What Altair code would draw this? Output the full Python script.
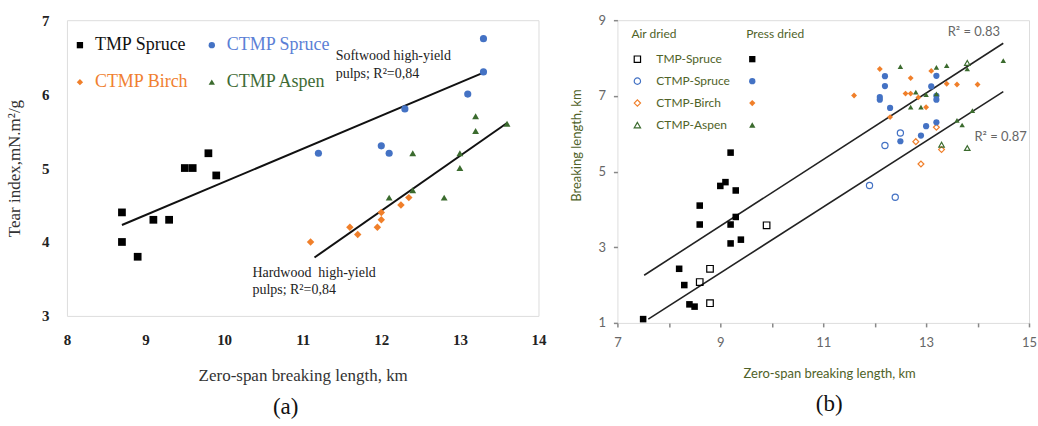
import altair as alt
import pandas as pd

# ---------------- Panel (a) data ----------------
# legend is laid out column-major in two columns, so this order gives rows
# "TMP Spruce | CTMP Spruce" and "CTMP Birch | CTMP Aspen"
a_series = ["TMP Spruce", "CTMP Birch", "CTMP Spruce", "CTMP Aspen"]
a_colors = ["#000000", "#F07F2A", "#4472C4", "#3B6B2E"]
a_shapes = ["square", "diamond", "circle", "triangle-up"]
a_sizes = [60, 30, 50, 38]

a_tmp_x = [8.7, 8.7, 8.9, 9.1, 9.3, 9.5, 9.6, 9.8, 9.9]
a_tmp_y = [4.4, 4.0, 3.8, 4.3, 4.3, 5.0, 5.0, 5.2, 4.9]
a_cspruce_x = [11.2, 12.0, 12.1, 12.3, 13.1, 13.3, 13.3]
a_cspruce_y = [5.2, 5.3, 5.2, 5.8, 6.0, 6.3, 6.75]
a_birch_x = [11.1, 11.6, 11.7, 11.95, 12.0, 12.0, 12.25, 12.35]
a_birch_y = [4.0, 4.2, 4.1, 4.2, 4.3, 4.4, 4.5, 4.6]
a_aspen_x = [12.1, 12.4, 12.4, 12.8, 13.0, 13.0, 13.2, 13.2, 13.6]
a_aspen_y = [4.6, 4.7, 5.2, 4.6, 5.0, 5.2, 5.5, 5.7, 5.6]

a_line_names = ["Softwood", "Softwood", "Hardwood", "Hardwood"]
a_line_x = [8.7, 13.3, 11.15, 13.6]
a_line_y = [4.23, 6.29, 3.79, 5.61]

a_note_text = ["Softwood high-yield", " pulps; R²=0,84", "Hardwood\u00a0 high-yield", "pulps; R²=0,84"]
a_note_x = [11.42, 11.42, 10.36, 10.36]
a_note_y = [6.51, 6.27, 3.58, 3.35]

# ---------------- Panel (b) data ----------------
b_series = ["TMP-Spruce", "CTMP-Spruce", "CTMP-Birch", "CTMP-Aspen"]
b_colors = ["#000000", "#4472C4", "#F07F2A", "#3B6B2E"]
b_shapes = ["square", "circle", "diamond", "triangle-up"]
b_sizes = [75, 55, 40, 45]

b_tmp_press_x = [9.2, 9.1, 9.0, 9.3, 8.6, 8.6, 9.2, 9.3, 9.2, 9.4, 8.2, 8.3, 8.4, 8.5, 7.5]
b_tmp_press_y = [5.5, 4.72, 4.62, 4.5, 4.1, 3.6, 3.6, 3.8, 3.1, 3.2, 2.43, 2.0, 1.49, 1.43, 1.1]
b_tmp_air_x = [9.9, 8.8, 8.6, 8.8]
b_tmp_air_y = [3.58, 2.43, 2.08, 1.52]
b_cspruce_press_x = [12.2, 12.2, 12.1, 12.1, 12.3, 13.2, 13.1, 13.2, 13.2, 13.2, 13.0, 12.9, 12.5]
b_cspruce_press_y = [7.52, 7.26, 6.97, 6.9, 6.68, 7.53, 7.25, 7.0, 6.9, 6.3, 6.2, 5.95, 5.8]
b_cspruce_air_x = [12.5, 12.2, 11.9, 12.4]
b_cspruce_air_y = [6.02, 5.69, 4.63, 4.32]
b_birch_press_x = [11.6, 12.1, 12.7, 13.1, 12.6, 12.7, 12.85, 13.0, 12.3, 13.4, 13.6, 14.0]
b_birch_press_y = [7.01, 7.71, 7.47, 7.66, 7.06, 7.06, 6.96, 6.7, 6.44, 7.32, 7.3, 7.3]
b_birch_air_x = [13.2, 12.8, 13.3, 12.9]
b_birch_air_y = [6.17, 5.79, 5.58, 5.2]
b_aspen_press_x = [12.5, 13.2, 13.4, 13.8, 14.5, 12.8, 13.0, 13.2, 12.7, 12.9, 13.9, 13.6, 13.7]
b_aspen_press_y = [7.77, 7.75, 7.8, 7.71, 7.93, 7.1, 7.03, 7.05, 6.7, 6.7, 6.61, 6.35, 6.23]
b_aspen_air_x = [13.8, 13.3, 13.8]
b_aspen_air_y = [7.87, 5.71, 5.62]

b_line_names = ["upper", "upper", "lower", "lower"]
b_line_x = [7.52, 14.5, 7.6, 14.5]
b_line_y = [2.26, 8.39, 1.1, 7.11]

b_note_text = ["R² = 0.83", "R² = 0.87"]
b_note_x = [13.42, 13.94]
b_note_y = [8.68, 5.91]

# ---------------- frames ----------------
def series_df(pairs, names):
    rows = []
    for name, (xs, ys) in zip(names, pairs):
        for x, y in zip(xs, ys):
            rows.append({"series": name, "x": x, "y": y})
    return pd.DataFrame(rows)

df_a = series_df([(a_tmp_x, a_tmp_y), (a_cspruce_x, a_cspruce_y),
                  (a_birch_x, a_birch_y), (a_aspen_x, a_aspen_y)],
                 ["TMP Spruce", "CTMP Spruce", "CTMP Birch", "CTMP Aspen"])
df_a_lines = pd.DataFrame({"line": a_line_names, "x": a_line_x, "y": a_line_y})
df_a_notes = pd.DataFrame({"text": a_note_text, "x": a_note_x, "y": a_note_y})

df_b_press = series_df([(b_tmp_press_x, b_tmp_press_y), (b_cspruce_press_x, b_cspruce_press_y),
                        (b_birch_press_x, b_birch_press_y), (b_aspen_press_x, b_aspen_press_y)], b_series)
df_b_air = series_df([(b_tmp_air_x, b_tmp_air_y), (b_cspruce_air_x, b_cspruce_air_y),
                      (b_birch_air_x, b_birch_air_y), (b_aspen_air_x, b_aspen_air_y)], b_series)
df_b_lines = pd.DataFrame({"line": b_line_names, "x": b_line_x, "y": b_line_y})
df_b_notes = pd.DataFrame({"text": b_note_text, "x": b_note_x, "y": b_note_y})

SERIF = "Liberation Serif"
SANS = "Lato"
GREEN_TXT = "#4F6228"

# ---------------- Panel (a) ----------------
xa_scale = alt.Scale(domain=[8, 14], nice=False, zero=False)
ya_scale = alt.Scale(domain=[3, 7], nice=False, zero=False)
xa_axis = alt.Axis(values=[8, 9, 10, 11, 12, 13, 14], format="d", title="Zero-span breaking length, km",
                   grid=False, domain=False, ticks=False, labelFlush=False, labelFont=SERIF,
                   labelFontWeight="bold", labelFontSize=15, labelColor="#222", labelPadding=17,
                   titleFont=SERIF, titleFontWeight="normal", titleFontSize=17, titleColor="#333",
                   titlePadding=20)
ya_axis = alt.Axis(values=[3, 4, 5, 6, 7], format="d", title="Tear index,mN.m²/g", grid=False,
                   domain=False, ticks=False, labelFlush=False, labelFont=SERIF, labelFontWeight="bold",
                   labelFontSize=15, labelColor="#222", labelPadding=18, titleFont=SERIF,
                   titleFontWeight="normal", titleFontSize=17, titleColor="#333", titlePadding=18)

label_color_expr = ("datum.label == 'CTMP Spruce' ? '#5B7FD6' : datum.label == 'CTMP Birch' ? '#F08030' : "
                    "datum.label == 'CTMP Aspen' ? '#3E6B35' : '#111'")
legend_a = alt.Legend(title=None, orient="none", legendX=4, legendY=16, columns=2, columnPadding=14,
                      rowPadding=19, labelFont=SERIF, labelFontSize=18, labelColor={"expr": label_color_expr},
                      symbolSize=40, labelOffset=6, symbolStrokeWidth=0)

pts_a = alt.Chart(df_a).mark_point(filled=True, opacity=1).encode(
    x=alt.X("x:Q", scale=xa_scale, axis=xa_axis),
    y=alt.Y("y:Q", scale=ya_scale, axis=ya_axis),
    color=alt.Color("series:N", scale=alt.Scale(domain=a_series, range=a_colors), legend=legend_a),
    shape=alt.Shape("series:N", scale=alt.Scale(domain=a_series, range=a_shapes), legend=legend_a),
    size=alt.Size("series:N", scale=alt.Scale(domain=a_series, range=a_sizes), legend=None),
)
lines_a = alt.Chart(df_a_lines).mark_line(color="#111", strokeWidth=2).encode(
    x=alt.X("x:Q", scale=xa_scale), y=alt.Y("y:Q", scale=ya_scale), detail="line:N")
notes_a = alt.Chart(df_a_notes).mark_text(align="left", baseline="middle", font=SERIF, fontSize=14,
                                          color="#222").encode(
    x=alt.X("x:Q", scale=xa_scale), y=alt.Y("y:Q", scale=ya_scale), text="text:N")

panel_a = alt.layer(lines_a, pts_a, notes_a).properties(
    width=472, height=296,
    title=alt.TitleParams("(a)", orient="bottom", font=SERIF, fontSize=23, fontWeight="normal",
                          color="#111", offset=12, dx=-17))

# ---------------- Panel (b) ----------------
xb_scale = alt.Scale(domain=[7, 15], nice=False, zero=False)
yb_scale = alt.Scale(domain=[1, 9], nice=False, zero=False)
odd_only = "datum.value % 2 == 1 ? datum.label : ''"
xb_axis = alt.Axis(values=list(range(7, 16)), labelExpr=odd_only, title="Zero-span breaking length, km",
                   grid=False, domain=False, ticks=True, tickSize=4, tickColor="#888", tickWidth=1.5,
                   labelFlush=False, labelFont=SANS, labelFontSize=13, labelColor="#666", labelPadding=10,
                   titleFont=SANS, titleFontWeight="normal", titleFontSize=13, titleColor=GREEN_TXT,
                   titlePadding=18, titleX=212)
yb_axis = alt.Axis(values=list(range(1, 10)), labelExpr=odd_only, title="Breaking length, km",
                   grid=False, domain=False, ticks=True, tickSize=4, tickColor="#888", tickWidth=1.5,
                   labelFlush=False, labelFont=SANS, labelFontSize=13, labelColor="#666", labelPadding=8,
                   titleFont=SANS, titleFontWeight="normal", titleFontSize=13, titleColor=GREEN_TXT,
                   titlePadding=14, titleY=125)

def legend_b(title, x, show_labels):
    kw = dict(title=title, orient="none", legendX=x, legendY=9, titleFont=SANS, titleFontSize=12,
              titleFontWeight="normal", titleColor=GREEN_TXT, titlePadding=12, labelFont=SANS,
              labelFontSize=12, labelColor=GREEN_TXT, rowPadding=10, symbolSize=40, labelOffset=13,
              symbolStrokeWidth=1.2)
    if not show_labels:
        kw["labelExpr"] = "''"
    return alt.Legend(**kw)

leg_air = legend_b("\u00a0\u00a0Air dried", 14, True)
leg_press = legend_b("\u00a0\u00a0Press dried", 129, False)

air_b = alt.Chart(df_b_air).mark_point(filled=False, opacity=1, strokeWidth=1.2).encode(
    x=alt.X("x:Q", scale=xb_scale, axis=xb_axis),
    y=alt.Y("y:Q", scale=yb_scale, axis=yb_axis),
    color=alt.Color("series:N", scale=alt.Scale(domain=b_series, range=b_colors), legend=leg_air),
    shape=alt.Shape("series:N", scale=alt.Scale(domain=b_series, range=b_shapes), legend=leg_air),
    size=alt.Size("series:N", scale=alt.Scale(domain=b_series, range=b_sizes), legend=None),
)
press_b = alt.Chart(df_b_press).mark_point(filled=True, opacity=1).encode(
    x=alt.X("x:Q", scale=xb_scale, axis=xb_axis),
    y=alt.Y("y:Q", scale=yb_scale, axis=yb_axis),
    color=alt.Color("series:N", scale=alt.Scale(domain=b_series, range=b_colors), legend=leg_press),
    shape=alt.Shape("series:N", scale=alt.Scale(domain=b_series, range=b_shapes), legend=leg_press),
    size=alt.Size("series:N", scale=alt.Scale(domain=b_series, range=b_sizes), legend=None),
)
lines_b = alt.Chart(df_b_lines).mark_line(color="#222", strokeWidth=1.6).encode(
    x=alt.X("x:Q", scale=xb_scale), y=alt.Y("y:Q", scale=yb_scale), detail="line:N")
notes_b = alt.Chart(df_b_notes).mark_text(align="left", baseline="middle", font=SANS, fontSize=13,
                                          color="#666").encode(
    x=alt.X("x:Q", scale=xb_scale), y=alt.Y("y:Q", scale=yb_scale), text="text:N")

panel_b = alt.layer(lines_b, air_b, press_b, notes_b).resolve_scale(
    color="independent", shape="independent").properties(
    width=412, height=303,
    title=alt.TitleParams("(b)", orient="bottom", font=SERIF, fontSize=23, fontWeight="normal",
                          color="#111", offset=12, dx=6))

chart = alt.hconcat(panel_a, panel_b, spacing=79, bounds="flush").properties(
    padding={"left": 5, "top": 12, "right": 0, "bottom": 5}
).configure_view(stroke="#8c8c8c", strokeWidth=2.2).configure(background="white")

chart.save("out.html", embed_options={"renderer": "svg", "actions": False})
